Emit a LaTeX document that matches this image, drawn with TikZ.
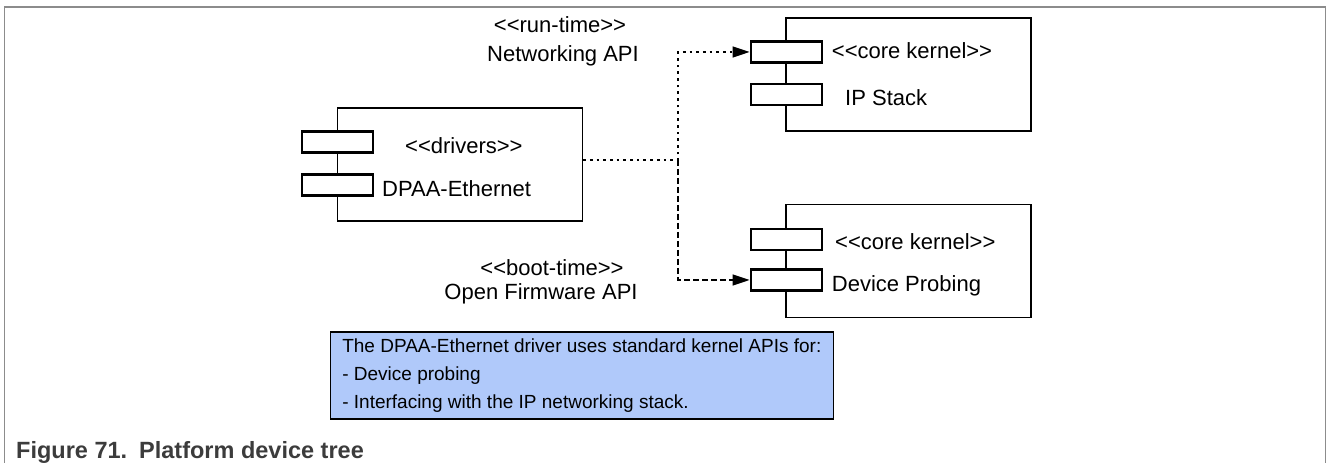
\documentclass[tikz,border=0pt]{standalone}
\usepackage{fontspec}
\setmainfont{Liberation Sans}[Ligatures=TeXOff]
\usetikzlibrary{positioning,calc}
\usetikzlibrary{arrows.meta}
\definecolor{FrameGray}{RGB}{140,140,140}
\definecolor{CapGray}{RGB}{60,60,60}
\definecolor{NoteBlue}{RGB}{176,201,250}
\tikzset{
  comp/.style={draw=black,fill=white,line width=1.3pt,minimum width=245pt,minimum height=113pt,inner sep=0pt},
  port/.style={draw=black,fill=white,line width=2.3pt,minimum width=71pt,minimum height=21pt,inner sep=0pt},
  txt/.style={font=\fontsize{22}{26}\selectfont,inner sep=0pt,anchor=base west},
  lbl/.style={font=\fontsize{22}{26}\selectfont,inner sep=0pt,anchor=base},
  note/.style={draw=black,fill=NoteBlue,line width=1.2pt,align=left,inner xsep=12pt,minimum height=87pt,
    font=\fontsize{19}{27.7}\selectfont},
}
\tikzset{frame/.style={draw=FrameGray,line width=1.5pt},
  rt/.style={line width=1.3pt,dash pattern=on 2.7pt off 4pt,-{Triangle[length=17pt,width=11pt]}},
  bt/.style={line width=1.3pt,dash pattern=on 5.7pt off 3.3pt,-{Triangle[length=17pt,width=11pt]}}}

\begin{document}
\begin{tikzpicture}[x=1pt,y=1pt]
\useasboundingbox (0,0) rectangle (1328,463);
\draw[frame] (4.5,0) |- (1325.5,456) -- (1325.5,0);
% components
\node[comp] (drv) at (460,298.5) {};
\node[comp] (ipk) at (908.5,388.5) {};
\node[comp] (dev) at (908.5,201.7) {};
\node[port] (drvA) at (337.5,321) {};
\node[port] (drvB) at (337.5,278) {};
\node[port] (ipA) at (786.2,411) {};
\node[port] (ipB) at (786.2,368.5) {};
\node[port] (devA) at (786.2,223.3) {};
\node[port] (devB) at (786.2,183) {};
\node[txt] (drvS) at (405,309) {<<drivers>>};
\node[txt] (drvN) at (382,266.3) {DPAA-Ethernet};
\node[txt] (ipS) at (831.7,404) {<<core kernel>>};
\node[txt] (ipN) at (845,357) {IP Stack};
\node[txt] (devS) at (835,213.7) {<<core kernel>>};
\node[txt] (devN) at (831.7,171) {Device Probing};
% interfaces
\node[lbl] (rtS) at (560,430.7) {<<run-time>>};
\node[lbl] (rtN) at (563,401.3) {Networking API};
\node[lbl] (btS) at (552,187) {<<boot-time>>};
\node[lbl] (btN) at (541,163.7) {Open Firmware API};
\coordinate (jn) at (678,303);
\draw[rt] (drv.east |- jn) -- (jn) |- (ipA.west);
\draw[bt] (jn) |- (devB.west);
% note and caption
\node[note,anchor=east] (nt) at (834,87.5) {The DPAA-Ethernet driver uses standard kernel APIs for:\\
- Device probing\\
- Interfacing with the IP networking stack.};
\node[txt,font=\fontsize{23.5}{26}\bfseries\selectfont,text=CapGray] (cap) at (16,4.5) {Figure 71.\hspace{12pt}Platform device tree};
\end{tikzpicture}
\end{document}
